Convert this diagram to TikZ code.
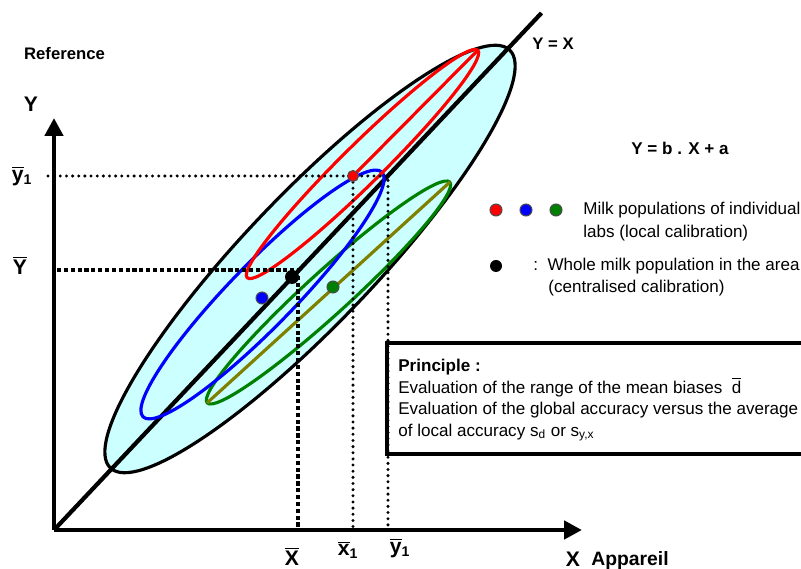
\documentclass[tikz,border=0pt]{standalone}
\usepackage{fontspec}
\setmainfont{Liberation Sans}
\usepackage{xcolor}
\definecolor{cianPobl}{HTML}{CCFFFF}
\definecolor{rojoLab}{HTML}{FF0000}
\definecolor{azulLab}{HTML}{0000FF}
\definecolor{verdeLab}{HTML}{008000}
\definecolor{olivaLab}{HTML}{808000}
\usepackage{tikz}
\usetikzlibrary{arrows.meta,positioning}
\newcommand{\barra}[1]{\ensuremath{\overline{\hbox{#1}}}}

\begin{document}
\begin{tikzpicture}[x=1cm,y=1cm,font=\fontsize{9.7}{12.2}\selectfont,
  >={Triangle[length=3.6mm,width=3.6mm]},
  pobl/.style={line width=1.8pt},
  punto/.style={draw=black!70,line width=0.6pt},
  guiafina/.style={line width=1.9pt,dash pattern=on 0pt off 3.5pt,line cap=round},
  guiagruesa/.style={line width=2.2pt,dash pattern=on 2.4pt off 1.5pt},
  etiq/.style={font=\fontsize{12}{14}\selectfont\bfseries}]

\useasboundingbox (-1.08,-0.78) rectangle (14.94,10.6);

% Poblacion total
\draw[pobl,fill=cianPobl,rotate around={46.3:(5.12,5.42)}]
  (5.12,5.42) ellipse (5.78 and 1.30);

% Ejes
\draw[->,line width=2.8pt] (0,0) -- (0,8.24);
\draw[->,line width=2.8pt] (0,0) -- (10.56,0);

% Y = X
\draw[line width=2.4pt] (0,0) -- (9.75,10.34);

% Poblaciones locales
\draw[pobl,verdeLab,rotate around={42.3:(5.49,4.75)}]
  (5.49,4.75) ellipse (3.28 and 0.43);
\draw[pobl,olivaLab] (3.06,2.54) -- (7.92,6.96);

\draw[pobl,azulLab,rotate around={45.7:(4.17,4.71)}]
  (4.17,4.71) ellipse (3.42 and 0.64);

\draw[pobl,rojoLab,rotate around={44.6:(6.17,7.32)}]
  (6.17,7.32) ellipse (3.24 and 0.40);
\draw[pobl,rojoLab] (5.98,7.08) -- (8.48,9.60);

% Guias
\draw[guiagruesa] (0.06,5.2) -- (4.88,5.2) -- (4.88,0.04);
\draw[guiafina] (-0.12,7.08) -- (6.68,7.08) -- (6.68,0.04);
\draw[guiafina] (5.98,7.08) -- (5.98,0.04);

% Medias
\fill[punto,fill=rojoLab]  (5.98,7.08) circle (0.11);
\fill[punto,fill=azulLab]  (4.16,4.64) circle (0.12);
\fill[punto,fill=verdeLab] (5.58,4.86) circle (0.12);
\fill[black]               (4.76,5.06) circle (0.14);

% Textos de ejes
\node[font=\fontsize{9.5}{11}\selectfont\bfseries] (ref) at (0.21,9.53) {Reference};
\node[etiq] (ejeY) at (-0.46,8.51) {Y};
\node[etiq] (ybarra) at (-0.64,7.08) {\barra{y}\textsubscript{1}};
\node[etiq] (Ybarra) at (-0.68,5.30) {\barra{Y}};
\node[etiq] (Xbarra) at (4.76,-0.52) {\barra{X}};
\node[etiq] (xbarra1) at (5.88,-0.40) {\barra{x}\textsubscript{1}};
\node[etiq] (ybarra1) at (6.92,-0.36) {\barra{y}\textsubscript{1}};
\node[etiq] (ejeX) at (10.38,-0.58) {X};
\node[font=\fontsize{11}{13}\selectfont\bfseries] (apar) at (11.52,-0.62) {Appareil};
\node[font=\fontsize{9.5}{11}\selectfont\bfseries] (diag) at (9.98,9.72) {Y = X};
\node[font=\fontsize{9.7}{11}\selectfont\bfseries] (regr) at (12.52,7.64) {Y = b . X + a};

% Leyenda
\fill[punto,fill=rojoLab]  (8.84,6.4) circle (0.12);
\fill[punto,fill=azulLab]  (9.44,6.4) circle (0.12);
\fill[punto,fill=verdeLab] (10.04,6.4) circle (0.12);
\node[anchor=west,align=left,inner sep=0pt,font=\fontsize{9.7}{13}\selectfont]
  (leyLab) at (10.58,6.17) {Milk populations of individual\\labs (local calibration)};
\fill[black] (8.84,5.28) circle (0.12);
\node[anchor=west,inner sep=0pt] (leyTot) at (9.58,5.28) {:\ \ Whole milk population in the area};
\node[anchor=west,inner sep=0pt] (leyTot2) at (9.88,4.84) {(centralised calibration)};

% Principio
\draw[line width=1.8pt] (6.66,1.52) rectangle (16,3.74);
\node[anchor=north west,align=left,inner sep=0pt] (princ) at (6.88,3.42)
  {\textbf{Principle :}\\
   Evaluation of the range of the mean biases\ \ \barra{d}\\
   Evaluation of the global accuracy versus the average\\
   of local accuracy s\textsubscript{d} or s\textsubscript{y,x}};

\end{tikzpicture}
\end{document}
